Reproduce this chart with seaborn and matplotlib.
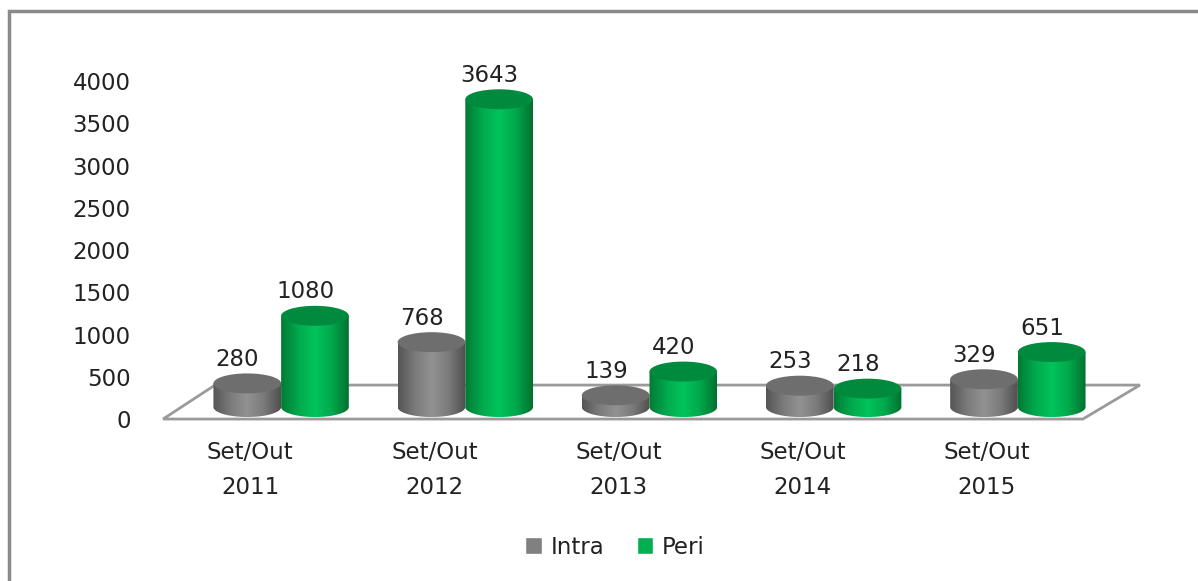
import numpy as np
import pandas as pd
import matplotlib
matplotlib.use("Agg")
import matplotlib.pyplot as plt
import matplotlib.transforms as mtransforms
from matplotlib.patches import Ellipse, Polygon, Rectangle, PathPatch
from matplotlib.path import Path
from matplotlib.colors import LinearSegmentedColormap
import seaborn as sns

# dados
periodos = ["Set/Out\n2011", "Set/Out\n2012", "Set/Out\n2013", "Set/Out\n2014", "Set/Out\n2015"]
intra = [280, 768, 139, 253, 329]
peri = [1080, 3643, 420, 218, 651]
series = ["Intra", "Peri"]
cores = {"Intra": "#808080", "Peri": "#00b050"}

df = pd.DataFrame({
    "periodo": periodos * 2,
    "serie": ["Intra"] * len(intra) + ["Peri"] * len(peri),
    "valor": intra + peri,
})

sns.set_style("white")
plt.rcParams["font.family"] = ["DejaVu Sans"]
fs = 16.5

fig = plt.figure(figsize=(11.98, 5.81), dpi=100)
ax = fig.add_axes([0.1578, 0.2776, 0.7687, 0.618])
sns.barplot(data=df, x="periodo", y="valor", hue="serie", palette=cores,
            width=0.735, saturation=1, legend=False, ax=ax)

ry = 118  # semi-eixo vertical das elipses (unidades de dados)

gradientes = {
    "Intra": LinearSegmentedColormap.from_list("gi", ["#555555", "#7a7a7a", "#929292", "#7a7a7a", "#4f4f4f"]),
    "Peri": LinearSegmentedColormap.from_list("gp", ["#007a34", "#00a84c", "#00c45c", "#00a84c", "#00702f"]),
}
topos = {"Intra": "#6e6e6e", "Peri": "#008a3e"}
grad = np.linspace(0, 1, 256).reshape(1, -1)

for k, (serie, cont) in enumerate(zip(series, ax.containers)):
    z = 2 + k
    for bar in cont:
        bar.set_visible(False)
        x0, w, h = bar.get_x(), bar.get_width(), bar.get_height()
        xc, x1 = x0 + w / 2, x0 + w
        t = np.linspace(np.pi, 2 * np.pi, 60)
        arco = np.column_stack([xc + w / 2 * np.cos(t), ry * np.sin(t)])
        verts = np.vstack([[x0, h], arco, [x1, h], [x0, h]])
        codes = [Path.MOVETO] + [Path.LINETO] * (len(verts) - 2) + [Path.CLOSEPOLY]
        corpo = PathPatch(Path(verts, codes), facecolor="none", edgecolor="none", zorder=z)
        ax.add_patch(corpo)
        im = ax.imshow(grad, extent=(x0, x1, -ry, h), aspect="auto",
                       cmap=gradientes[serie], zorder=z, interpolation="bilinear")
        im.set_clip_path(corpo)
        ax.add_patch(Ellipse((xc, h), w, 2 * ry, facecolor=topos[serie],
                             edgecolor="none", zorder=z + 0.5))
        ax.annotate(f"{int(h)}", (xc, h), xytext=(-7, 9), textcoords="offset points",
                    ha="center", va="bottom", fontsize=fs, color="#222222", zorder=6)

ax.set_xlim(-0.5, len(periodos) - 0.5)
ax.set_ylim(-150, 4100)

# "chão" 3D
chao = Polygon([[-0.641, -142], [4.353, -142], [4.663, 260], [-0.359, 260]], closed=True,
               facecolor="white", edgecolor="#9a9a9a", lw=2, zorder=1, clip_on=False)
ax.add_patch(chao)

ax.set_yticks(range(0, 4001, 500))
ax.set_xlabel("")
ax.set_ylabel("")
ax.tick_params(axis="y", length=0, pad=42, labelsize=fs, labelcolor="#222222")
ax.tick_params(axis="x", length=0, pad=15, labelsize=fs, labelcolor="#222222")
for lab in ax.get_xticklabels():
    lab.set_linespacing(1.7)
for s in ax.spines.values():
    s.set_visible(False)

off_y = mtransforms.ScaledTranslation(0, -12 / 100, fig.dpi_scale_trans)
for lab in ax.get_yticklabels():
    lab.set_transform(lab.get_transform() + off_y)
off_x = mtransforms.ScaledTranslation(-31 / 100, 0, fig.dpi_scale_trans)
for lab in ax.get_xticklabels():
    lab.set_transform(lab.get_transform() + off_x)

handles = [Rectangle((0, 0), 1, 1, facecolor=cores[s]) for s in series]
fig.legend(handles, series, loc="center", bbox_to_anchor=(615 / 1198, 1 - 547 / 581),
           ncol=2, frameon=False, fontsize=fs, handlelength=0.7, handleheight=0.7,
           columnspacing=1.4, handletextpad=0.4, labelcolor="#222222")

# moldura
fig.patches.append(Rectangle((8.5 / 1198, -0.1), 1.2, 1.1 - 10.5 / 581, transform=fig.transFigure,
                             fill=False, edgecolor="#8a8a8a", lw=2.5))

fig.savefig("out.png", dpi=100)
